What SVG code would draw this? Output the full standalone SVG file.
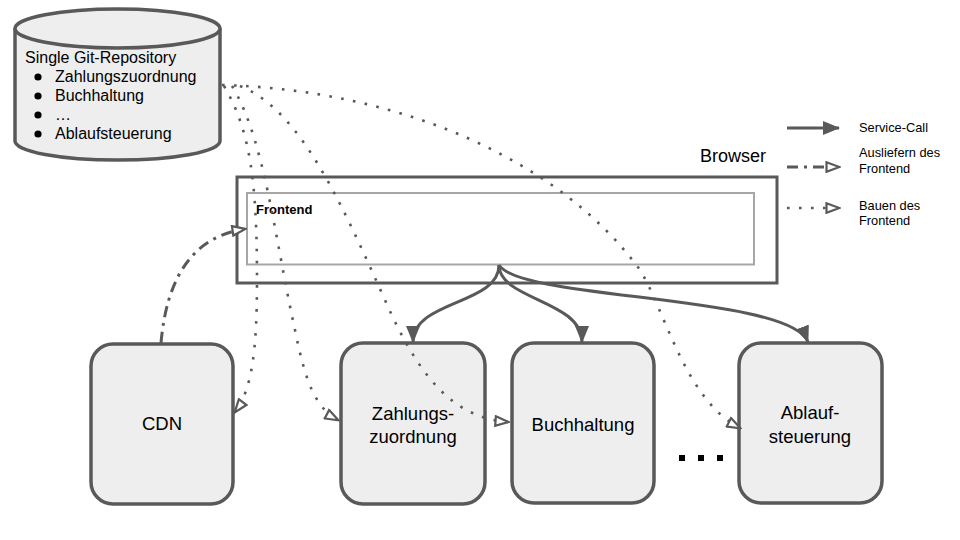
<svg xmlns="http://www.w3.org/2000/svg" width="960" height="540" viewBox="0 0 960 540">
<defs>
<style>
text{font-family:"Liberation Sans",Arial,sans-serif;fill:#000}
.node{fill:#eeeeee;stroke:#595959;stroke-width:3.5}
.lbl{font-size:18.5px;text-anchor:middle}
.repo{font-size:16px}
.call{fill:none;stroke:#595959;stroke-width:3}
.dot{fill:none;stroke:#595959;stroke-width:2.6;stroke-dasharray:2.6 9.4}
.dd{fill:none;stroke:#595959;stroke-width:3;stroke-dasharray:11 6 3 6}
.leg{font-size:12.8px}
</style>
<marker id="fa" viewBox="0 0 17 14" refX="16" refY="7" markerWidth="17" markerHeight="14" markerUnits="userSpaceOnUse" orient="auto">
<path d="M0,0 L17,7 L0,14 Z" fill="#595959"/>
</marker>
<marker id="oa" viewBox="0 0 16 12" refX="14" refY="6" markerWidth="16" markerHeight="12" markerUnits="userSpaceOnUse" orient="auto">
<path d="M1.5,1.2 L14.5,6 L1.5,10.8 Z" fill="#fff" stroke="#595959" stroke-width="2.2"/>
</marker>
</defs>
<rect width="960" height="540" fill="#fff"/>

<g id="repo">
<path d="M15,28.5 L15,141 A102.5,19 0 0 0 220,141 L220,28.5" class="node"/>
<ellipse cx="117.5" cy="28.5" rx="102.5" ry="19.5" class="node"/>
<text x="25" y="63" class="repo">Single Git-Repository</text>
<circle cx="38" cy="77" r="3.6" fill="#000"/>
<circle cx="38" cy="96" r="3.6" fill="#000"/>
<circle cx="38" cy="115" r="3.6" fill="#000"/>
<circle cx="38" cy="134" r="3.6" fill="#000"/>
<text x="55" y="82" class="repo">Zahlungszuordnung</text>
<text x="55" y="101" class="repo">Buchhaltung</text>
<text x="55" y="120" class="repo">…</text>
<text x="55" y="139" class="repo">Ablaufsteuerung</text>
</g>

<g id="browser">
<rect x="237" y="177" width="540" height="106" fill="#fff" stroke="#595959" stroke-width="3"/>
<text x="700" y="162" font-size="18">Browser</text>
</g>

<g id="frontend">
<rect x="247" y="193" width="507" height="71.5" fill="#fff" stroke="#a6a6a6" stroke-width="2"/>
<text x="256" y="214" font-size="13" font-weight="bold">Frontend</text>
</g>

<g id="cdn">
<rect x="91" y="344" width="142" height="160" rx="22" class="node"/>
<text x="162" y="430" class="lbl">CDN</text>
</g>
<g id="zahlungszuordnung">
<rect x="341" y="343" width="144" height="161" rx="22" class="node"/>
<text x="413" y="420" class="lbl">Zahlungs-</text>
<text x="413" y="443" class="lbl">zuordnung</text>
</g>
<g id="buchhaltung">
<rect x="512" y="343" width="142" height="160" rx="22" class="node"/>
<text x="583" y="431" class="lbl">Buchhaltung</text>
</g>
<g id="ablaufsteuerung">
<rect x="739" y="343" width="143" height="160" rx="22" class="node"/>
<text x="810" y="419" class="lbl">Ablauf-</text>
<text x="810" y="443" class="lbl">steuerung</text>
</g>

<g id="ellipsis">
<line x1="679" y1="458" x2="723" y2="458" stroke="#000" stroke-width="6" stroke-dasharray="6 13"/>
</g>

<g id="connectors">
<path class="call" d="M499,265 C499,305 413,300 413,342" marker-end="url(#fa)"/>
<path class="call" d="M499,265 C499,300 582,300 582,342" marker-end="url(#fa)"/>
<path class="call" d="M499,265 C520,300 790,295 808,342" marker-end="url(#fa)"/>
<path class="dd" d="M161,343 Q170,240 245,229" marker-end="url(#oa)"/>
<path class="dot" d="M224,86 C250,130 257,180 257,280 C257,350 252,390 235,412" marker-end="url(#oa)"/>
<path class="dot" d="M232,86 C265,140 275,240 295,330 C305,380 315,408 338,420" marker-end="url(#oa)"/>
<path class="dot" d="M240,86 C300,110 340,200 385,300 C420,380 455,418 508,422" marker-end="url(#oa)"/>
<path class="dot" d="M222,85 C400,90 560,160 640,270 C665,310 685,400 740,428" marker-end="url(#oa)"/>
</g>

<g id="legend">
<line x1="787" y1="128" x2="839" y2="128" class="call" marker-end="url(#fa)"/>
<text x="859" y="132" class="leg">Service-Call</text>
<line x1="787" y1="167" x2="839" y2="167" class="dd" marker-end="url(#oa)"/>
<text x="859" y="157" class="leg">Ausliefern des</text>
<text x="859" y="173" class="leg">Frontend</text>
<line x1="787" y1="208" x2="839" y2="208" class="dot" marker-end="url(#oa)"/>
<text x="859" y="210" class="leg">Bauen des</text>
<text x="859" y="225" class="leg">Frontend</text>
</g>
</svg>
